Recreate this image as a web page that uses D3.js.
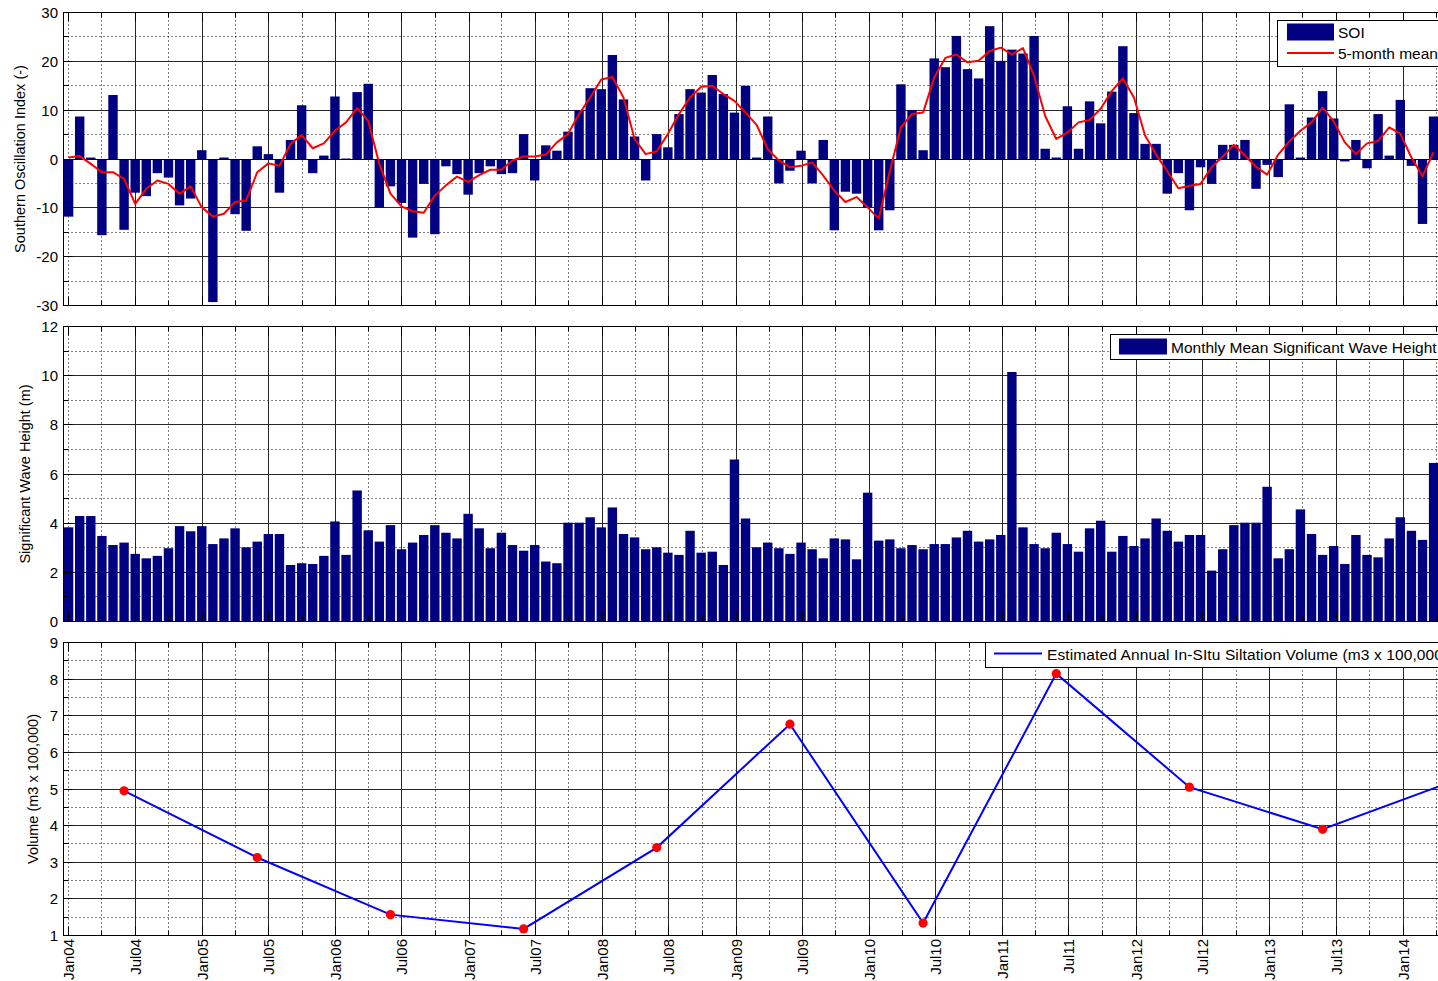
<!DOCTYPE html>
<html><head><meta charset="utf-8">
<script src="https://cdn.jsdelivr.net/npm/d3@7"></script>
<style>
html,body{margin:0;padding:0;background:#fff;overflow:hidden}
svg{display:block;font-family:"Liberation Sans",Arial,Helvetica,sans-serif}
</style></head><body>
<svg id="chart" width="1438" height="981"></svg>
<script>
// ---------------- DATA ----------------
// Monthly series start January 2004 (index 0) and run to April 2014 (index 123)
const startYear = 2004;
const soi = [
  -11.8, 8.7, 0.3, -15.6, 13.1, -14.5, -6.9, -7.6, -2.9, -3.8, -9.5, -8.1,
  1.8, -29.3, 0.3, -11.3, -14.7, 2.6, 1.0, -6.9, 3.9, 11.0, -2.9, 0.7,
  12.8, 0.1, 13.7, 15.4, -10.0, -5.6, -9.0, -16.1, -5.1, -15.4, -1.5, -3.1,
  -7.3, -2.9, -1.5, -3.1, -2.9, 5.1, -4.4, 2.8, 1.7, 5.6, 10.0, 14.5,
  14.3, 21.3, 12.2, 4.6, -4.4, 5.1, 2.4, 9.2, 14.3, 13.6, 17.2, 13.3,
  9.5, 15.0, 0.3, 8.7, -5.0, -2.4, 1.7, -5.0, 3.9, -14.6, -6.7, -7.1,
  -10.0, -14.6, -10.5, 15.3, 10.0, 1.8, 20.6, 18.8, 25.2, 18.4, 16.5, 27.2,
  20.1, 22.4, 21.6, 25.2, 2.1, 0.3, 10.8, 2.1, 11.8, 7.3, 13.8, 23.1,
  9.4, 3.1, 3.1, -7.1, -2.9, -10.5, -1.7, -5.1, 2.9, 2.9, 3.9, -6.1,
  -1.2, -3.7, 11.2, 0.3, 8.5, 13.9, 8.3, -0.5, 3.9, -1.9, 9.2, 0.7,
  12.1, -1.4, -13.3, 8.7
];
const soiMean5 = [
  0.3, 0.6, -1.0, -2.7, -2.7, -4.1, -9.2, -6.1, -4.4, -5.1, -7.1, -5.6,
  -9.9, -11.8, -11.2, -8.8, -8.5, -2.7, -0.9, -1.4, 3.1, 4.9, 2.2, 3.2,
  5.8, 7.5, 10.4, 7.8, -1.0, -7.1, -9.7, -10.7, -11.0, -7.5, -5.4, -3.6,
  -4.7, -3.3, -2.2, -2.2, -0.3, 0.5, 0.5, 0.9, 3.4, 5.1, 9.2, 12.6,
  16.3, 16.8, 12.6, 4.1, 1.0, 1.6, 5.1, 9.2, 12.6, 14.8, 15.0, 13.3,
  11.9, 9.5, 7.0, 2.0, -0.3, -1.7, -1.4, -0.7, -3.4, -6.5, -8.8, -7.8,
  -9.9, -12.2, -2.5, 6.5, 9.2, 9.5, 16.7, 20.7, 21.4, 19.8, 20.1, 22.1,
  22.8, 21.4, 22.7, 17.0, 8.8, 4.1, 5.4, 7.5, 8.0, 10.3, 13.9, 16.5,
  12.6, 4.8, 0.9, -2.5, -6.0, -5.5, -5.1, -1.7, 0.5, 2.9, 0.7, -1.6,
  -3.2, 0.9, 3.6, 5.8, 7.5, 10.5, 7.7, 3.4, 1.0, 3.2, 3.7, 6.5,
  5.2, 0.3, -3.5, 1.4
];
const waveHeight = [
  3.83, 4.29, 4.29, 3.48, 3.11, 3.21, 2.75, 2.57, 2.67, 2.98, 3.88, 3.67,
  3.88, 3.15, 3.38, 3.79, 3.02, 3.25, 3.56, 3.56, 2.30, 2.37, 2.34, 2.67,
  4.07, 2.71, 5.33, 3.71, 3.25, 3.92, 2.94, 3.21, 3.52, 3.92, 3.61, 3.38,
  4.38, 3.79, 2.98, 3.61, 3.11, 2.88, 3.11, 2.44, 2.37, 4.02, 4.02, 4.24,
  3.83, 4.64, 3.56, 3.42, 2.94, 3.02, 2.80, 2.71, 3.69, 2.80, 2.84, 2.30,
  6.59, 4.19, 3.02, 3.21, 2.98, 2.75, 3.21, 2.94, 2.57, 3.38, 3.34, 2.53,
  5.24, 3.29, 3.34, 2.98, 3.11, 2.94, 3.15, 3.15, 3.42, 3.69, 3.25, 3.34,
  3.52, 10.15, 3.83, 3.15, 2.98, 3.61, 3.15, 2.84, 3.79, 4.10, 2.84, 3.48,
  3.07, 3.38, 4.19, 3.69, 3.25, 3.52, 3.52, 2.07, 2.94, 3.92, 4.02, 4.02,
  5.48, 2.57, 2.94, 4.56, 3.56, 2.71, 3.07, 2.34, 3.52, 2.71, 2.61, 3.38,
  4.24, 3.69, 3.32, 6.45
];
// Annual in-situ siltation volume (m3 x 100,000), plotted at June of each year 2004..2014
const siltationMonthIndex = [5, 17, 29, 41, 53, 65, 77, 89, 101, 113, 125];
const siltationVolume = [4.95, 3.13, 1.57, 1.18, 3.40, 6.77, 1.34, 8.15, 5.05, 3.90, 5.24];

const xTickLabels = ["Jan04","Jul04","Jan05","Jul05","Jan06","Jul06","Jan07","Jul07","Jan08","Jul08",
  "Jan09","Jul09","Jan10","Jul10","Jan11","Jul11","Jan12","Jul12","Jan13","Jul13","Jan14"];
const soiTicks = [-30, -20, -10, 0, 10, 20, 30];
const waveTicks = [0, 2, 4, 6, 8, 10, 12];
const volumeTicks = [1, 2, 3, 4, 5, 6, 7, 8, 9];
const soiLegend = ["SOI", "5-month mean"];
const waveLegend = ["Monthly Mean Significant Wave Height"];
const volumeLegend = ["Estimated Annual In-SItu Siltation Volume (m3 x 100,000)"];
const yLabels = ["Southern Oscillation Index (-)", "Significant Wave Height (m)", "Volume (m3 x 100,000)"];

// ---------------- LAYOUT ----------------
const svg = d3.select("#chart");
const L = 63.5, R = 1480;
const NAVY = "#000080";
const FONT = 15;
const LEGFONT = 15.5;
const crisp = v => Math.round(v - 0.5) + 0.5;

const parseTick = d3.utcParse("%b%y");
const tickDates = xTickLabels.map(parseTick);
const xTime = d3.scaleUtc()
  .domain([new Date(Date.UTC(startYear, 0, 1)), new Date(Date.UTC(2014, 0, 1))])
  .range([68.6, 1403.3]);
const xIdx = d3.scaleLinear().domain([0, 120]).range([68.6, 1400.3]);
const minorDates = d3.utcMonths(new Date(Date.UTC(2004, 3, 1)), new Date(Date.UTC(2015, 0, 1)), 6);
const extraMajor = [new Date(Date.UTC(2014, 6, 1))];

const panels = [
  { top: 12.5, bottom: 305.5, ticks: soiTicks, label: yLabels[0], labelX: 20, dom: [-30, 30] },
  { top: 326.5, bottom: 621.5, ticks: waveTicks, label: yLabels[1], labelX: 25, dom: [0, 12] },
  { top: 642.5, bottom: 935.5, ticks: volumeTicks, label: yLabels[2], labelX: 33, dom: [1, 9] }
];

panels.forEach((p, k) => {
  p.y = d3.scaleLinear().domain(p.dom).range([p.bottom, p.top]);
  const g = svg.append("g");
  p.g = g;
  const clipId = "clip" + k;
  svg.append("clipPath").attr("id", clipId).append("rect")
    .attr("x", L).attr("y", p.top).attr("width", R - L).attr("height", p.bottom - p.top);
  p.clip = "url(#" + clipId + ")";

  const step = p.ticks[1] - p.ticks[0];
  const minorY = p.ticks.slice(0, -1).map(t => t + step / 2);

  // minor (dotted) grid
  const grid = g.append("g").attr("clip-path", p.clip);
  grid.selectAll(".hmin").data(minorY).join("line")
    .attr("x1", L).attr("x2", R)
    .attr("y1", d => crisp(p.y(d))).attr("y2", d => crisp(p.y(d)))
    .attr("stroke", "#000").attr("stroke-width", 1).attr("stroke-dasharray", "1,3");
  grid.selectAll(".vmin").data(minorDates.concat([tickDates[0]])).join("line")
    .attr("y1", p.top).attr("y2", p.bottom)
    .attr("x1", d => crisp(xTime(d))).attr("x2", d => crisp(xTime(d)))
    .attr("stroke", "#000").attr("stroke-width", 1).attr("stroke-dasharray", "1,3");
  // major (solid) grid
  grid.selectAll(".hmaj").data(p.ticks.slice(1, -1)).join("line")
    .attr("x1", L).attr("x2", R)
    .attr("y1", d => crisp(p.y(d))).attr("y2", d => crisp(p.y(d)))
    .attr("stroke", "#262626").attr("stroke-width", 1);
  grid.selectAll(".vmaj").data(tickDates.slice(1).concat(extraMajor)).join("line")
    .attr("y1", p.top).attr("y2", p.bottom)
    .attr("x1", d => crisp(xTime(d))).attr("x2", d => crisp(xTime(d)))
    .attr("stroke", "#262626").attr("stroke-width", 1);

  // y tick labels
  g.selectAll(".ytl").data(p.ticks).join("text")
    .attr("x", 58).attr("y", d => p.y(d))
    .attr("text-anchor", "end").attr("dominant-baseline", "central")
    .attr("font-size", FONT).attr("fill", "#000")
    .text(d => d);
  // y axis label
  g.append("text")
    .attr("transform", `translate(${p.labelX},${(p.top + p.bottom) / 2}) rotate(-90)`)
    .attr("text-anchor", "middle").attr("dominant-baseline", "central")
    .attr("font-size", 14.5).attr("fill", "#000")
    .text(p.label);
});

// ---------------- DATA LAYERS ----------------
const bw = 9.4;
// Panel 1: SOI bars + 5-month mean
{
  const p = panels[0];
  const d = p.g.append("g").attr("clip-path", p.clip);
  d.selectAll("rect").data(soi).join("rect")
    .attr("x", (v, i) => xIdx(i) - bw / 2).attr("width", bw)
    .attr("y", v => Math.min(p.y(v), p.y(0)))
    .attr("height", v => Math.abs(p.y(v) - p.y(0)))
    .attr("fill", NAVY);
  d.append("line").attr("x1", L).attr("x2", R)
    .attr("y1", crisp(p.y(0))).attr("y2", crisp(p.y(0)))
    .attr("stroke", "#000").attr("stroke-width", 1.2);
  d.append("path").datum(soiMean5)
    .attr("d", d3.line().x((v, i) => xIdx(i)).y(v => p.y(v)))
    .attr("fill", "none").attr("stroke", "#ff0000").attr("stroke-width", 2)
    .attr("stroke-linejoin", "round");
}
// Panel 2: wave height bars
{
  const p = panels[1];
  const d = p.g.append("g").attr("clip-path", p.clip);
  d.selectAll("rect").data(waveHeight).join("rect")
    .attr("x", (v, i) => xIdx(i) - bw / 2).attr("width", bw)
    .attr("y", v => p.y(v)).attr("height", v => p.y(0) - p.y(v))
    .attr("fill", NAVY);
}
// Panel 3: siltation volume line
{
  const p = panels[2];
  const d = p.g.append("g").attr("clip-path", p.clip);
  const pts = siltationVolume.map((v, i) => [siltationMonthIndex[i], v]);
  d.append("path").datum(pts)
    .attr("d", d3.line().x(q => xIdx(q[0])).y(q => p.y(q[1])))
    .attr("fill", "none").attr("stroke", "#0000ff").attr("stroke-width", 2);
  d.selectAll("circle").data(pts).join("circle")
    .attr("cx", q => xIdx(q[0])).attr("cy", q => p.y(q[1])).attr("r", 4.6)
    .attr("fill", "#ff0000");
}

// ---------------- TICKS, BOX ----------------
panels.forEach(p => {
  const g = p.g.append("g").attr("clip-path", p.clip);
  const step = p.ticks[1] - p.ticks[0];
  const minorY = p.ticks.slice(0, -1).map(t => t + step / 2);
  const tk = (arr, len) => {
    g.selectAll(null).data(arr).join("line")
      .attr("x1", d => crisp(xTime(d))).attr("x2", d => crisp(xTime(d)))
      .attr("y1", p.bottom).attr("y2", p.bottom - len)
      .attr("stroke", "#000");
    g.selectAll(null).data(arr).join("line")
      .attr("x1", d => crisp(xTime(d))).attr("x2", d => crisp(xTime(d)))
      .attr("y1", p.top).attr("y2", p.top + len)
      .attr("stroke", "#000");
  };
  tk(tickDates.concat(extraMajor), 9);
  tk(minorDates, 5);
  g.selectAll(null).data(p.ticks).join("line")
    .attr("x1", L).attr("x2", L + 9)
    .attr("y1", d => crisp(p.y(d))).attr("y2", d => crisp(p.y(d))).attr("stroke", "#000");
  g.selectAll(null).data(minorY).join("line")
    .attr("x1", L).attr("x2", L + 5)
    .attr("y1", d => crisp(p.y(d))).attr("y2", d => crisp(p.y(d))).attr("stroke", "#000");
  p.g.append("rect").attr("x", L).attr("y", p.top)
    .attr("width", R - L).attr("height", p.bottom - p.top)
    .attr("fill", "none").attr("stroke", "#000").attr("stroke-width", 1);
});

// x tick labels (bottom panel only)
svg.append("g").selectAll("text").data(tickDates).join("text")
  .attr("transform", d => `translate(${xTime(d)},939) rotate(-90)`)
  .attr("text-anchor", "end").attr("dominant-baseline", "central")
  .attr("font-size", FONT).attr("fill", "#000")
  .text((d, i) => xTickLabels[i]);

// ---------------- LEGENDS ----------------
{
  const g = svg.append("g");
  g.append("rect").attr("x", 1277.5).attr("y", 20.5).attr("width", 260).attr("height", 46)
    .attr("fill", "#fff").attr("stroke", "#000");
  g.append("rect").attr("x", 1287).attr("y", 23.5).attr("width", 47).attr("height", 17).attr("fill", NAVY);
  g.append("text").attr("x", 1338).attr("y", 32.5).attr("dominant-baseline", "central")
    .attr("font-size", LEGFONT).text(soiLegend[0]);
  g.append("line").attr("x1", 1287).attr("x2", 1334).attr("y1", 53).attr("y2", 53)
    .attr("stroke", "#ff0000").attr("stroke-width", 2);
  g.append("text").attr("x", 1338).attr("y", 53.5).attr("dominant-baseline", "central")
    .attr("font-size", LEGFONT).text(soiLegend[1]);
}
{
  const g = svg.append("g");
  g.append("rect").attr("x", 1110.5).attr("y", 334.5).attr("width", 400).attr("height", 25)
    .attr("fill", "#fff").attr("stroke", "#000");
  g.append("rect").attr("x", 1119).attr("y", 338.5).attr("width", 48).attr("height", 16).attr("fill", NAVY);
  g.append("text").attr("x", 1171).attr("y", 347.5).attr("dominant-baseline", "central")
    .attr("font-size", LEGFONT).text(waveLegend[0]);
}
{
  const g = svg.append("g");
  g.append("rect").attr("x", 985.5).attr("y", 642.5).attr("width", 520).attr("height", 25)
    .attr("fill", "#fff").attr("stroke", "#000");
  g.append("line").attr("x1", 994).attr("x2", 1042).attr("y1", 653.5).attr("y2", 653.5)
    .attr("stroke", "#0000ff").attr("stroke-width", 2);
  g.append("text").attr("x", 1047).attr("y", 654).attr("dominant-baseline", "central")
    .attr("font-size", LEGFONT).attr("letter-spacing", 0.12).text(volumeLegend[0]);
}
</script>
</body></html>
